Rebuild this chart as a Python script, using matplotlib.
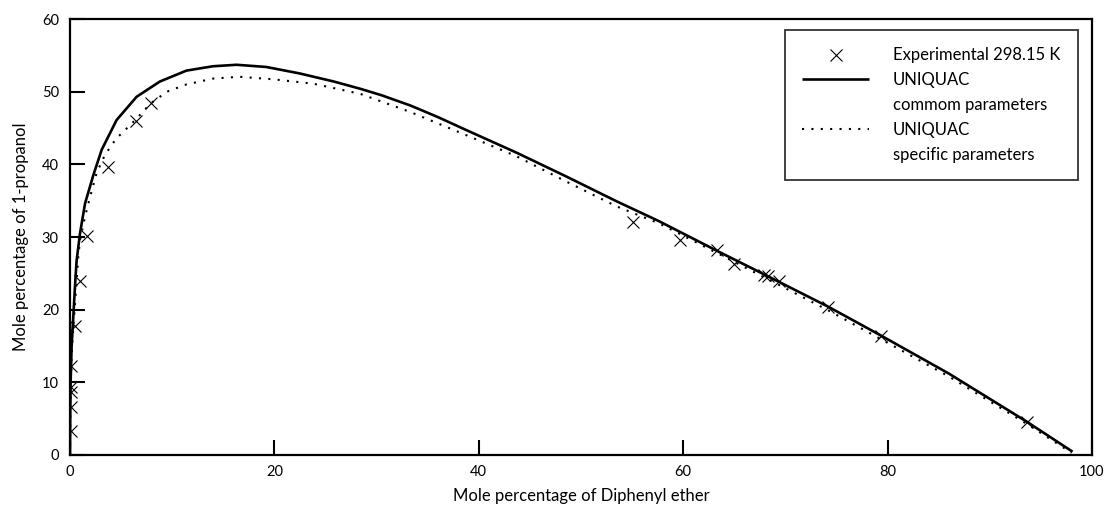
import matplotlib
matplotlib.use("Agg")
import matplotlib.pyplot as plt
from matplotlib.lines import Line2D

plt.rcParams['font.family'] = ['Lato', 'DejaVu Sans']

# Experimental data (298.15 K)
exp_x = [0.05, 0.05, 0.05, 0.05, 0.08, 0.45, 0.98, 1.65, 3.75, 6.45, 7.95,
         55.1, 59.7, 63.3, 65.0, 67.9, 68.3, 69.4, 74.2, 79.4, 93.6]
exp_y = [3.3, 6.6, 8.7, 9.4, 12.3, 17.7, 24.0, 30.2, 39.6, 46.0, 48.5,
         32.0, 29.6, 28.2, 26.3, 24.8, 24.6, 23.9, 20.4, 16.4, 4.5]

# UNIQUAC common parameters (solid)
common_x = [0, 0.02, 0.06, 0.16, 0.36, 0.52, 0.65, 0.98, 1.47, 2.28, 3.1, 4.56,
            6.52, 8.8, 11.4, 14.0, 16.3, 19.2, 22.5, 25.8, 28.4, 30.5, 33.3,
            36.0, 38.8, 43.7, 48.6, 53.5, 57.6, 63.3, 68.0, 74.2, 79.4, 86.0,
            93.6, 98.1]
common_y = [0, 5, 10, 15, 20, 24, 26.8, 30.5, 34.6, 38.5, 42.0, 46.1,
            49.3, 51.4, 52.9, 53.5, 53.7, 53.4, 52.5, 51.4, 50.4, 49.5, 48.1,
            46.5, 44.7, 41.6, 38.3, 34.9, 32.2, 28.1, 24.8, 20.4, 16.4, 11.2,
            4.6, 0.45]

# UNIQUAC specific parameters (dotted)
specific_x = [0, 0.03, 0.08, 0.2, 0.45, 0.65, 0.81, 0.98, 1.47, 1.96, 2.6, 3.42,
              4.5, 6.46, 7.9, 9.5, 11.4, 14.0, 16.6, 19.9, 23.8, 28.4, 33.3,
              38.8, 43.7, 48.6, 53.5, 57.6, 63.3, 68.0, 74.2, 79.4, 86.0, 93.6,
              98.0]
specific_y = [0, 5, 10, 15, 20, 24, 27.3, 29.6, 32.8, 35.5, 38.8, 41.3,
              43.5, 46.2, 48.4, 50.0, 51.0, 51.8, 52.05, 51.7, 51.1, 49.7, 47.2,
              44.0, 41.1, 37.6, 34.2, 31.9, 27.8, 24.4, 19.9, 15.9, 10.8, 4.3,
              0.3]

xticks = [0, 20, 40, 60, 80, 100]
yticks = [0, 10, 20, 30, 40, 50, 60]

fig = plt.figure(figsize=(11.09, 5.07), dpi=100)
ax = fig.add_axes([70/1109, 1-455/507, (1092-70)/1109, (455-19)/507])

h_common, = ax.plot(common_x, common_y, color='black', lw=1.9,
                    solid_capstyle='butt', zorder=3)
h_spec, = ax.plot(specific_x, specific_y, color='black', lw=1.5,
                  linestyle=(0, (1, 3.5)), zorder=3)
h_exp, = ax.plot(exp_x, exp_y, linestyle='none', marker='x', color='black',
                 markersize=8, markeredgewidth=0.8, zorder=4)

ax.set_xlim(0, 100)
ax.set_ylim(0, 60)
ax.set_xticks(xticks)
ax.set_yticks(yticks)
ax.tick_params(axis='both', direction='in', length=11, width=1.5,
               labelsize=10.5, top=False, right=False)
ax.tick_params(axis='y', pad=8)
ax.tick_params(axis='x', pad=7)
for s in ax.spines.values():
    s.set_linewidth(1.6)

ax.set_xlabel('Mole percentage of Diphenyl ether', fontsize=12, labelpad=7)
ax.set_ylabel('Mole percentage of 1-propanol', fontsize=12, labelpad=9)

blank = Line2D([], [], linestyle='none')
leg_handles = [h_exp, h_common, blank, h_spec, blank]
leg_labels = ['Experimental 298.15 K', 'UNIQUAC', 'commom parameters',
              'UNIQUAC', 'specific parameters']
leg = ax.legend(leg_handles, leg_labels,
                loc='upper right', bbox_to_anchor=(0.9863, 0.9748),
                fontsize=12, frameon=True, fancybox=False, edgecolor='black',
                borderpad=1.05, handlelength=4.0, handletextpad=1.45,
                labelspacing=0.53, borderaxespad=0)
leg.get_frame().set_linewidth(1.3)

fig.savefig('out.png', dpi=100)
